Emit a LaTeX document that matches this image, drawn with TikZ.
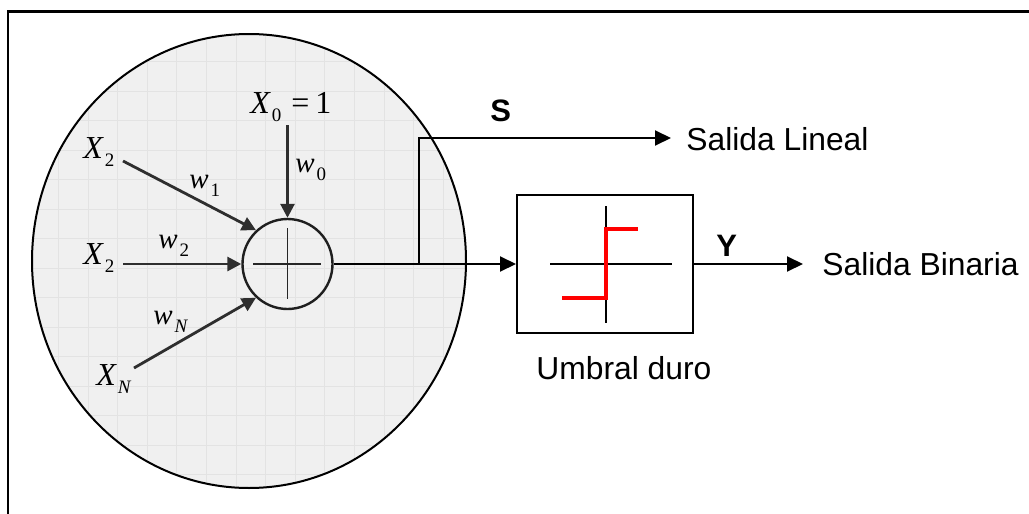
\documentclass[tikz,border=0pt]{standalone}
\usepackage{fontspec}
\setmainfont{Liberation Sans}
\newfontfamily\tmsfont{Liberation Serif}
\usetikzlibrary{arrows.meta}
\newcommand\sbs[1]{\kern1pt\raisebox{-4pt}{\fontsize{9.5}{9.5}\selectfont #1}}
\begin{document}
\begin{tikzpicture}[x=0.5pt,y=-0.5pt,
  outl/.style={line width=1pt, draw=black},
  inar/.style={line width=1.4pt, draw=black!82, -{Triangle[length=7pt,width=7pt]}},
  arr/.style={-{Triangle[length=8pt,width=7.5pt]}},
  lab/.style={inner sep=0pt, anchor=base west, font=\fontsize{16}{16}\selectfont\tmsfont\itshape},
  wlab/.style={inner sep=0pt, anchor=base west, font=\fontsize{14.5}{15}\selectfont\tmsfont\itshape},
  txt/.style={inner sep=0pt, anchor=base west, font=\fontsize{15.9}{16}\selectfont},
  btxt/.style={inner sep=0pt, anchor=base west, font=\fontsize{15.5}{16}\selectfont\bfseries},
  gridc/.style={draw=black!11, line width=0.5pt}]
\useasboundingbox (0,0) rectangle (1029,514);
% frame (top and left edges)
\draw[line width=1.25pt] (1029,11.5) -- (8,11.5) -- (8,514);
% big neuron disc with grid
\begin{scope}
  \clip (249,261) ellipse [x radius=217, y radius=227];
  \fill[black!6] (20,20) rectangle (480,500);
  \foreach \i in {-2,...,13} {\draw[gridc] ({88+29.6*\i},25) -- ({88+29.6*\i},500);}
  \foreach \j in {-4,...,12} {\draw[gridc] (25,{150+29.5*\j}) -- (480,{150+29.5*\j});}
\end{scope}
\draw[line width=1pt] (249,261) ellipse [x radius=217, y radius=227];
% summing junction
\node[circle, draw=black!88, line width=1.2pt, minimum size=45pt, inner sep=0pt] (sum) at (287.5,264) {};
\draw[line width=0.9pt, black!85] (253,264) -- (321,264);
\draw[line width=0.9pt, black!85] (287.5,228) -- (287.5,299);
% input labels
\node[lab] (x1) at (83,158) {X\sbs{\upshape 2}};
\node[lab] (x2) at (83,264) {X\sbs{\upshape 2}};
\node[lab] (xn) at (96,385) {X\sbs{N}};
\node[lab] (x0) at (250,113) {X\sbs{\upshape 0}\kern5pt{\upshape =}\kern3pt{\upshape 1}};
\node[wlab] (w1) at (189,188) {w\sbs{\upshape 1}};
\node[wlab] (w2) at (158,248) {w\sbs{\upshape 2}};
\node[wlab] (wn) at (153,324) {w\sbs{N}};
\node[wlab] (w0) at (295,172) {w\sbs{\upshape 0}};
% input arrows
\coordinate (a1) at (123,161);
\coordinate (a2) at (123,264);
\coordinate (an) at (134,368);
\coordinate (a0) at (287.5,125);
\draw[inar] (a1) -- (sum.133);
\draw[inar] (a2) -- (sum.west);
\draw[inar] (an) -- (sum.227);
\draw[inar] (a0) -- (sum.north);
% hard threshold block
\node[draw, line width=1pt, minimum width=88pt, minimum height=69pt, inner sep=0pt] (box) at (605,264) {};
\draw[line width=0.9pt] (606,206) -- (606,323);
\draw[line width=0.9pt] (550,264) -- (672,264);
\draw[red, line width=1.6pt] (562,298) -- (606,298) -- (606,229) -- (638,229);
% outputs
\coordinate (br) at (419,264);
\coordinate (tipL) at (671,138);
\coordinate (tipB) at (803,264);
\draw[outl, arr] (sum.east) -- (box.west);
\draw[outl, arr] (br) |- (tipL);
\draw[outl, arr] (box.east) -- (tipB);
\node[btxt] (s) at (490,121) {S};
\node[btxt] (y) at (716,256) {Y};
\node[txt] (sl) at (686,150) {Salida Lineal};
\node[txt] (sb) at (822,275) {Salida Binaria};
\node[txt] (ud) at (536,379) {Umbral duro};
\end{tikzpicture}
\end{document}
